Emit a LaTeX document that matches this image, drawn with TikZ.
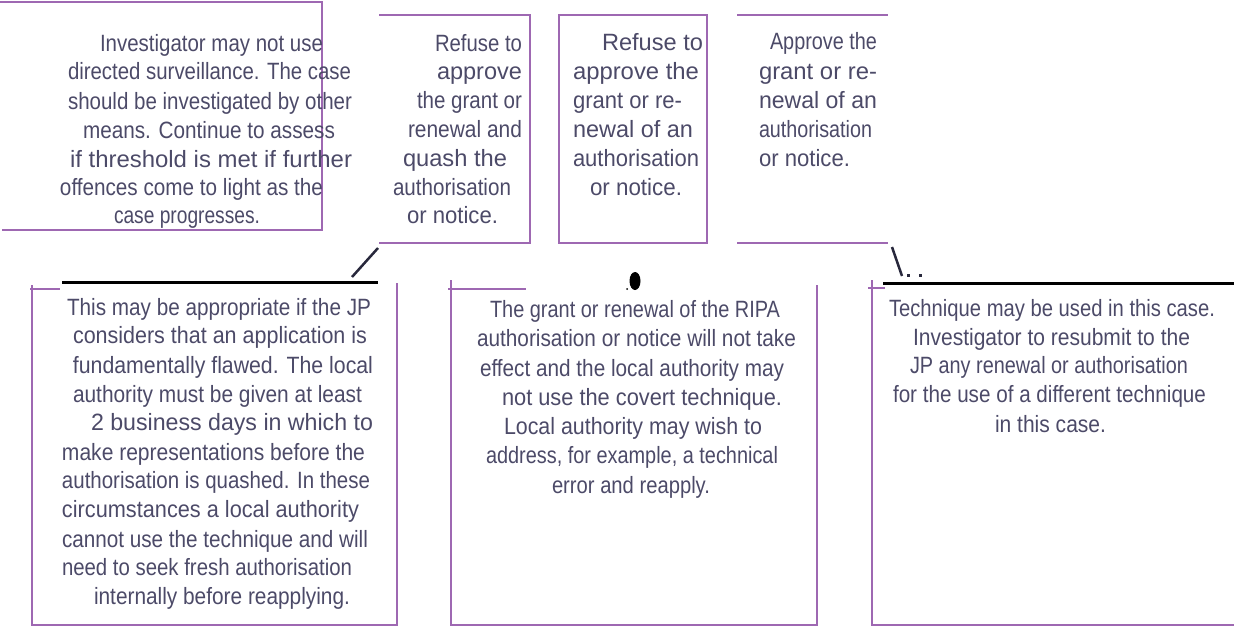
\documentclass[tikz,border=0pt]{standalone}
\usepackage{graphicx}
\usepackage{fontspec}
\setmainfont{Liberation Sans}
\definecolor{boxline}{RGB}{158,104,178}
\definecolor{txtc}{RGB}{76,74,104}
\definecolor{slashc}{RGB}{40,40,60}
\newcommand\TxtFont{\fontsize{20.5}{29}\selectfont}
\newlength\TxtW
\newcommand\TxtSy{1.15}
% fit text #2 to width #1 (in pt)
\newcommand\FitText[2]{%
  \settowidth\TxtW{#2}%
  \pgfmathsetmacro\TxtSx{(#1)/\TxtW}%
  \scalebox{\TxtSx}[\TxtSy]{#2}}
% name, left x, right x, baseline y, text
\newcommand\TxtLine[5]{%
  \node[tl] (#1) at ({(#2+#3)/2},#4) {\FitText{#3-#2}{#5}};}
\begin{document}
\begin{tikzpicture}[x=1pt,y=-1pt,
  tl/.style={anchor=base,inner sep=0pt,text=txtc,font=\TxtFont},
  frame/.style={draw=boxline,line width=1.6pt},
  blackrule/.style={draw=black,line width=3pt},
  slashline/.style={draw=slashc,line width=2.5pt}]
\useasboundingbox (0,0) rectangle (1234,626);

% ---- top row frames ----
\draw[frame] (0,2) -- (322,2) -- (322,230) -- (2,230);
\draw[frame] (379,15) -- (530,15) -- (530,243) -- (379,243);
\draw[frame] (559,15) rectangle (707,243);
\draw[frame] (737,15) -- (888,15);
\draw[frame] (737,243) -- (888,243);

% ---- bottom row frames ----
\draw[frame] (32,285) -- (32,625) -- (397,625) -- (397,283);
\draw[frame] (30,289) -- (60,289);
\draw[frame] (451,280) -- (451,625) -- (817,625) -- (817,285);
\draw[frame] (448,289) -- (526,289);
\draw[frame] (872,280) -- (872,625) -- (1234,625);
\draw[frame] (868,288) -- (885,288);

% ---- black rules and marks ----
\draw[blackrule] (62,282) -- (378,282);
\draw[blackrule] (883,283) -- (1234,283);
\draw[slashline] (378,248) -- (352,277);
\draw[slashline] (892,247) -- (902,276);
\fill[slashc] (906.5,273.5) rectangle (909.5,276.5);
\fill[slashc] (918.5,273.5) rectangle (921.5,276.5);
\fill[black] (635,281) ellipse [x radius=5.5, y radius=9];
\fill[black] (627,289) circle [radius=1];

% ---- box 1 ----
\TxtLine{a1}{100}{323}{52}{Investigator may not use}
\TxtLine{a2}{68}{351}{80}{directed surveillance. The case}
\TxtLine{a3}{68}{352}{109}{should be investigated by other}
\TxtLine{a4}{83}{335}{138}{means. Continue to assess}
\TxtLine{a5}{70}{352}{167}{if threshold is met if further}
\TxtLine{a6}{60}{323}{195}{offences come to light as the}
\TxtLine{a7}{114}{260}{223}{case progresses.}

% ---- box 2 ----
\TxtLine{b1}{435}{522}{52}{Refuse to}
\TxtLine{b2}{437}{522}{80}{approve}
\TxtLine{b3}{417}{522}{108}{the grant or}
\TxtLine{b4}{408}{522}{137}{renewal and}
\TxtLine{b5}{403}{507}{166}{quash the}
\TxtLine{b6}{393}{511}{195}{authorisation}
\TxtLine{b7}{407}{498}{223}{or notice.}

% ---- box 3 ----
\TxtLine{c1}{602}{703}{51}{Refuse to}
\TxtLine{c2}{573}{699}{80}{approve the}
\TxtLine{c3}{573}{682}{108}{grant or re-}
\TxtLine{c4}{573}{693}{137}{newal of an}
\TxtLine{c5}{573}{699}{166}{authorisation}
\TxtLine{c6}{590}{682}{195}{or notice.}

% ---- box 4 ----
\TxtLine{d1}{770}{877}{50}{Approve the}
\TxtLine{d2}{759}{877}{79}{grant or re-}
\TxtLine{d3}{759}{877}{108}{newal of an}
\TxtLine{d4}{759}{872}{137}{authorisation}
\TxtLine{d5}{759}{850}{166}{or notice.}

% ---- box 5 ----
\TxtLine{e1}{67}{371}{315}{This may be appropriate if the JP}
\TxtLine{e2}{73}{367}{343}{considers that an application is}
\TxtLine{e3}{73}{373}{373}{fundamentally flawed. The local}
\TxtLine{e4}{73}{362}{402}{authority must be given at least}
\TxtLine{e5}{91}{373}{430}{2 business days in which to}
\TxtLine{e6}{62}{365}{460}{make representations before the}
\TxtLine{e7}{62}{370}{488}{authorisation is quashed. In these}
\TxtLine{e8}{62}{359}{517}{circumstances a local authority}
\TxtLine{e9}{62}{368}{547}{cannot use the technique and will}
\TxtLine{e10}{62}{352}{575}{need to seek fresh authorisation}
\TxtLine{e11}{94}{350}{604}{internally before reapplying.}

% ---- box 6 ----
\TxtLine{f1}{490}{780}{317}{The grant or renewal of the RIPA}
\TxtLine{f2}{477}{796}{346}{authorisation or notice will not take}
\TxtLine{f3}{480}{784}{376}{effect and the local authority may}
\TxtLine{f4}{502}{782}{405}{not use the covert technique.}
\TxtLine{f5}{504}{762}{434}{Local authority may wish to}
\TxtLine{f6}{486}{778}{463}{address, for example, a technical}
\TxtLine{f7}{552}{710}{493}{error and reapply.}

% ---- box 7 ----
\TxtLine{g1}{889}{1215}{316}{Technique may be used in this case.}
\TxtLine{g2}{913}{1190}{345}{Investigator to resubmit to the}
\TxtLine{g3}{910}{1188}{373}{JP any renewal or authorisation}
\TxtLine{g4}{893}{1206}{402}{for the use of a different technique}
\TxtLine{g5}{995}{1106}{432}{in this case.}
\end{tikzpicture}
\end{document}
